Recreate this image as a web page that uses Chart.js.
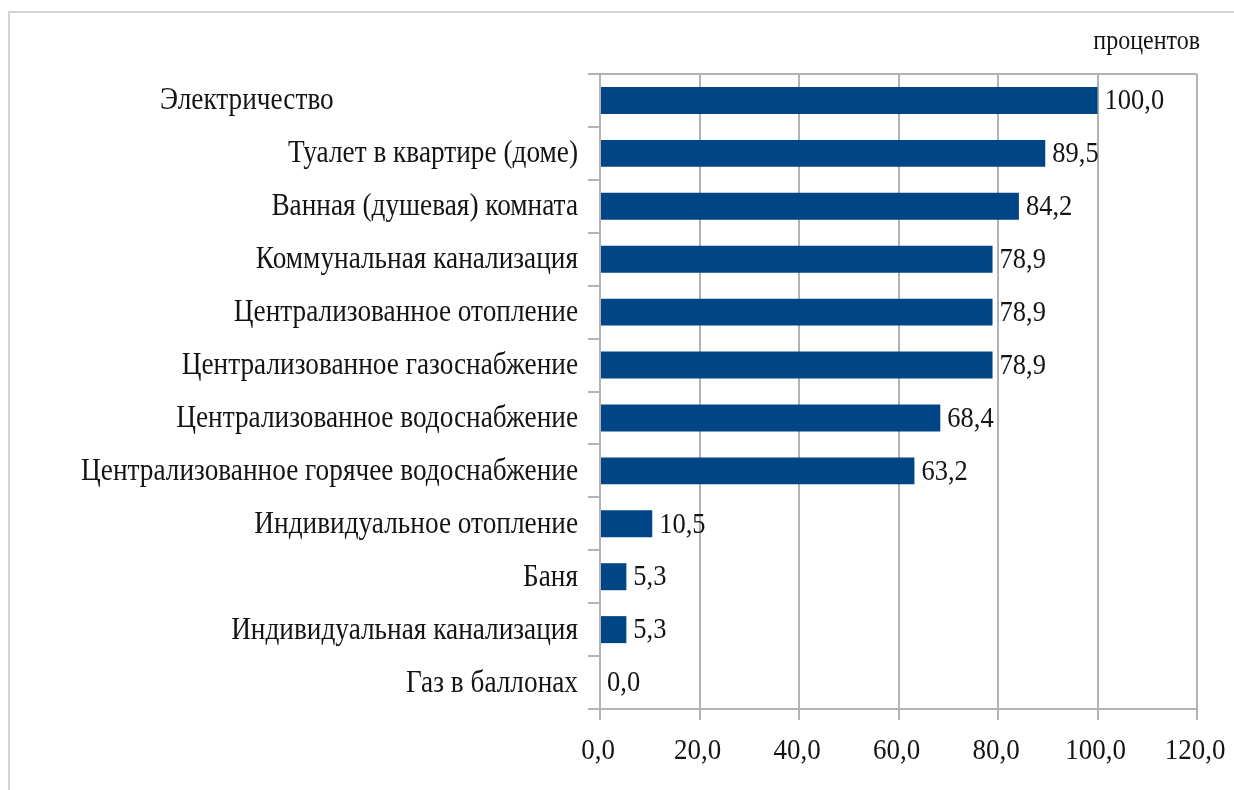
<!DOCTYPE html>
<html>
<head>
<meta charset="utf-8">
<script src="https://cdn.jsdelivr.net/npm/chart.js@4"></script>
<style>
  html, body { margin: 0; padding: 0; background: #fff; }
  #wrap { position: relative; width: 1234px; height: 790px; overflow: hidden; }
  #frame { position: absolute; left: 8px; top: 11px; width: 1300px; height: 900px;
           border-top: 2px solid #d4d4d4; border-left: 2px solid #d4d4d4; pointer-events: none; }
  canvas { position: absolute; left: 0; top: 0; }
</style>
</head>
<body>
<div id="wrap">
  <canvas id="c" width="1234" height="790"></canvas>
  <div id="frame"></div>
</div>
<script>
const categories = [
  "Электричество",
  "Туалет в квартире (доме)",
  "Ванная (душевая) комната",
  "Коммунальная канализация",
  "Централизованное отопление",
  "Централизованное газоснабжение",
  "Централизованное водоснабжение",
  "Централизованное горячее водоснабжение",
  "Индивидуальное отопление",
  "Баня",
  "Индивидуальная канализация",
  "Газ в баллонах"
];
const values = [100.0, 89.5, 84.2, 78.9, 78.9, 78.9, 68.4, 63.2, 10.5, 5.3, 5.3, 0.0];
const xTicks = [0, 20, 40, 60, 80, 100, 120];
const unitLabel = "процентов";

const FONT = "'Liberation Serif', 'DejaVu Serif', serif";
const GRID = "#b3b3b3";
const TEXT = "#141414";
const YSTRETCH = 1.12;
const fmt = v => Number(v).toFixed(1).replace('.', ',');

function stretchedText(ctx, text, x, y, align) {
  ctx.save();
  ctx.translate(x, y);
  ctx.scale(1, YSTRETCH);
  ctx.textAlign = align;
  ctx.textBaseline = 'middle';
  ctx.fillText(text, 0, 0);
  ctx.restore();
}

const labelPlugin = {
  id: 'customLabels',
  afterDraw(chart) {
    const ctx = chart.ctx;
    const meta = chart.getDatasetMeta(0);
    const yScale = chart.scales.y;
    const xScale = chart.scales.x;
    ctx.save();
    ctx.fillStyle = TEXT;
    // value labels
    ctx.font = "26.5px " + FONT;
    meta.data.forEach((bar, i) => {
      stretchedText(ctx, fmt(values[i]), bar.x + 7, bar.y + 1, 'left');
    });
    // category labels
    ctx.font = "27.3px " + FONT;
    const labelRight = yScale.right - 22;
    categories.forEach((c, i) => {
      const y = yScale.getPixelForValue(i) + 1;
      if (i === 0) {
        stretchedText(ctx, c, 160, y, 'left');
      } else {
        stretchedText(ctx, c, labelRight, y, 'right');
      }
    });
    // x tick labels
    ctx.font = "27px " + FONT;
    xTicks.forEach(v => {
      stretchedText(ctx, fmt(v), xScale.getPixelForValue(v) - 2, xScale.top + 42, 'center');
    });
    // unit label
    ctx.font = "24px " + FONT;
    stretchedText(ctx, unitLabel, chart.chartArea.right + 3, 42, 'right');
    ctx.restore();
  }
};

new Chart(document.getElementById('c'), {
  type: 'bar',
  data: {
    labels: categories,
    datasets: [{
      data: values,
      backgroundColor: '#004586',
      borderWidth: 0,
      barPercentage: 0.51,
      categoryPercentage: 1.0
    }]
  },
  options: {
    indexAxis: 'y',
    responsive: false,
    animation: false,
    devicePixelRatio: 1,
    layout: { padding: { left: 0, right: 37, top: 74, bottom: 0 } },
    plugins: { legend: { display: false }, tooltip: { enabled: false } },
    scales: {
      x: {
        min: 0, max: 120,
        afterBuildTicks: s => { s.ticks = xTicks.map(v => ({ value: v })); },
        afterFit: s => { s.height = 81; s.paddingLeft = 0; s.paddingRight = 0; },
        grid: { color: GRID, lineWidth: 2, tickLength: 11, tickColor: GRID },
        border: { color: GRID, width: 2 },
        ticks: { display: false }
      },
      y: {
        afterFit: s => { s.width = 600; s.paddingTop = 0; s.paddingBottom = 0; },
        grid: {
          offset: true,
          lineWidth: 2,
          tickLength: 12,
          tickColor: GRID,
          color: c => c.index === 0 ? GRID : 'rgba(0,0,0,0)'
        },
        border: { display: false },
        ticks: { display: false }
      }
    }
  },
  plugins: [labelPlugin]
});
</script>
</body>
</html>
